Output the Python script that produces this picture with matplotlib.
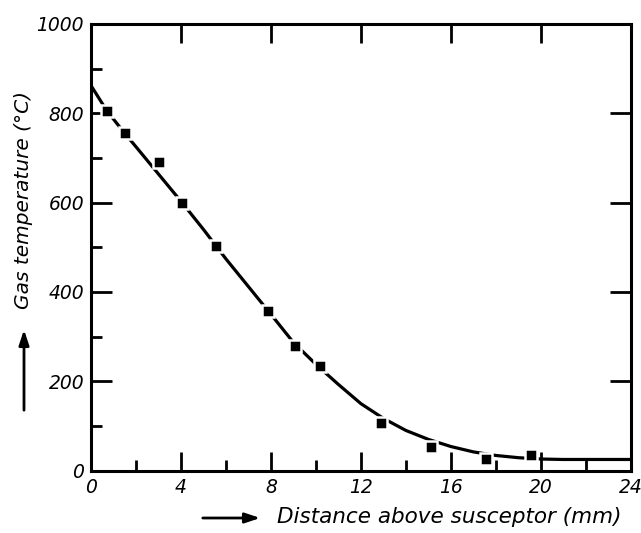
import matplotlib.pyplot as plt
from matplotlib.ticker import MultipleLocator

# measured gas temperature above the susceptor
distance_mm = [0.70, 1.49, 3.02, 4.06, 5.54, 7.88, 9.07, 10.18, 12.89, 15.14, 17.57, 19.56]
temperature_c = [806, 755, 692, 600, 503, 357, 279, 234, 106, 54, 26, 35]

# hand-drawn trend curve through the measurements
curve_x = [0, 0.7, 1.5, 2, 3, 4, 5, 5.5, 6, 7, 8, 9, 10, 11, 12, 13, 14, 15, 16, 17, 18, 19, 20, 21, 22, 23, 24]
curve_y = [862, 806, 755, 725, 664, 603, 540, 507, 474, 412, 350, 287, 238, 193, 150, 117, 90, 70, 54, 42, 34, 29, 26, 25, 25, 25, 25]

x_ticks = [0, 4, 8, 12, 16, 20, 24]
y_ticks = [0, 200, 400, 600, 800, 1000]

plt.rcParams['font.family'] = 'DejaVu Sans'
plt.rcParams['font.style'] = 'italic'

fig = plt.figure(figsize=(6.41, 5.33), dpi=100)
ax = fig.add_axes([0.142, 0.117, 0.842, 0.838])

ax.plot(curve_x, curve_y, color='black', lw=2.3, solid_capstyle='butt', zorder=2)
ax.plot(distance_mm, temperature_c, ls='none', marker='s', ms=8.5,
        mfc='black', mec='white', mew=1.8, zorder=3)

ax.set_xlim(0, 24)
ax.set_ylim(0, 1000)
ax.set_xticks(x_ticks)
ax.set_yticks(y_ticks)
ax.xaxis.set_minor_locator(MultipleLocator(2))
ax.yaxis.set_minor_locator(MultipleLocator(100))

for s in ax.spines.values():
    s.set_linewidth(2.2)

ax.tick_params(which='major', direction='in', length=11, width=2, labelsize=13.5, pad=5,
               top=True, right=True)
ax.tick_params(which='minor', direction='in', length=8, width=2, top=False, right=False)
ax.tick_params(axis='x', which='major', bottom=True, length=14)
ax.tick_params(axis='y', which='major', left=True, length=15)

ax.set_xlabel('Distance above susceptor (mm)', fontsize=15.5)
ax.xaxis.set_label_coords(0.663, -0.082)
ax.set_ylabel('Gas temperature (°C)', fontsize=14.5)
ax.yaxis.set_label_coords(-0.108, 0.606)

# arrows in front of the axis titles
ax.annotate('', xy=(263 / 641, 1 - 518 / 533), xytext=(200 / 641, 1 - 518 / 533),
            xycoords='figure fraction',
            arrowprops=dict(arrowstyle='-|>,head_length=0.9,head_width=0.3', color='black', lw=2))
ax.annotate('', xy=(24 / 641, 1 - 327 / 533), xytext=(24 / 641, 1 - 413 / 533),
            xycoords='figure fraction',
            arrowprops=dict(arrowstyle='-|>,head_length=0.9,head_width=0.3', color='black', lw=2))

fig.savefig('out.png', dpi=100)
